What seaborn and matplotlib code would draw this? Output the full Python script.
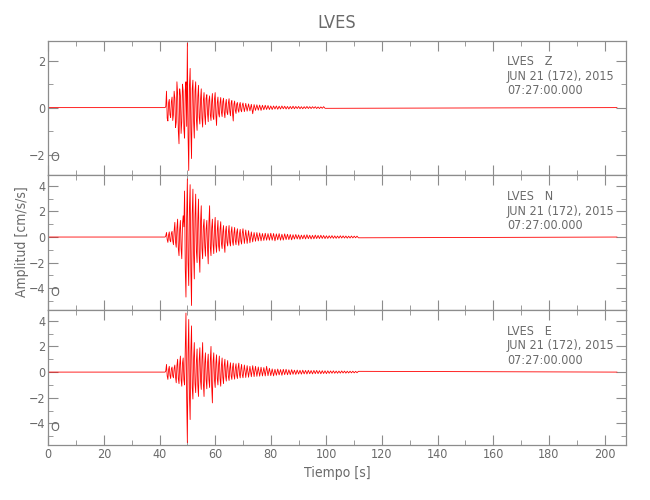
import numpy as np
import pandas as pd
import seaborn as sns
import matplotlib
matplotlib.use('Agg')
from matplotlib import pyplot as plt
from matplotlib.ticker import MultipleLocator

# trace header [s]
b, e = 0.0, 204.5
onset, dt_strong = 42.0, 0.25   # strong motion part, finely read
coda_start, dt_coda = 70.0, 0.5  # coda, coarser

station = 'LVES'
components = ['Z', 'N', 'E']
date_str = 'JUN 21 (172), 2015'
time_str = '07:27:00.000'
ylims = {'Z': (-2.89, 2.85), 'N': (-5.73, 4.82), 'E': (-5.68, 4.82)}

# amplitudes [cm/s/s]
z_strong = [0.00, 0.05, 0.70, -0.45, -0.57, 0.20, 0.35, -0.30, -0.42, 0.25,
            0.45, -0.55, -0.30, 0.70, 0.40, -0.85, -0.62, 1.10, 0.60, -1.00,
            -1.54, 0.80, 0.50, -1.10, -0.60, 1.00, 0.70, -0.90, -1.30, 0.75,
            1.10, -0.80, 2.75, -1.20, -2.68, 0.90, 1.67, -0.95, -2.17, 0.80,
            1.17, -0.60, -1.30, 0.70, 1.10, -0.50, -0.97, 0.45, 0.95, -0.40,
            -0.70, 0.35, 0.80, -0.45, -0.83, 0.30, 0.64, -0.35, -0.72, 0.40,
            0.55, -0.25, -0.60, 0.30, 0.50, -0.30, -0.55, 0.25, 0.60, -0.40,
            -0.50, 0.35, 0.64, -0.30, -0.76, 0.20, 0.45, -0.25, -0.40, 0.20,
            0.43, -0.20, -0.38, 0.25, 0.40, -0.20, -0.43, 0.15, 0.35, -0.20,
            -0.30, 0.20, 0.38, -0.15, -0.35, 0.20, 0.30, -0.25, -0.57, 0.15,
            0.28, -0.12, -0.25, 0.15, 0.22, -0.10, -0.20, 0.12, 0.22, -0.10,
            -0.18, 0.10]
z_coda = [0.20, -0.17, 0.18, -0.15, 0.16, -0.14, 0.14, -0.26, 0.13, -0.12,
          0.12, -0.11, 0.11, -0.12, 0.10, -0.09, 0.10, -0.08, 0.09, -0.08,
          0.07, -0.08, 0.07, -0.06, 0.07, -0.07, 0.06, -0.06, 0.07, -0.05,
          0.06, -0.06, 0.05, -0.06, 0.05, -0.05, 0.06, -0.05, 0.05, -0.04,
          0.05, -0.05, 0.04, -0.05, 0.04, -0.04, 0.05, -0.04, 0.04, -0.04,
          0.04, -0.03, 0.04, -0.04, 0.03, -0.04, 0.03, -0.03, 0.04, -0.03]

n_strong = [0.00, 0.10, 0.36, -0.20, -0.42, 0.15, 0.40, -0.25, -0.38, 0.30,
            0.45, -0.30, -0.60, 0.50, 1.15, -0.40, -0.80, 0.70, 1.40, -0.90,
            -1.46, 0.60, 1.30, -0.90, -1.70, 1.00, 1.67, 0.80, 3.60, -2.50,
            -4.70, 1.50, 4.55, -2.00, -3.80, 2.20, 4.10, -2.60, -5.36, 1.80,
            3.75, -1.40, -3.28, 1.60, 3.36, -1.10, -2.00, 1.30, 2.97, -1.50,
            -2.76, 1.20, 2.45, -0.90, -1.70, 0.80, 1.40, -0.70, -1.50, 0.60,
            1.30, -0.90, -2.10, 1.10, 2.45, -0.80, -1.46, 0.70, 1.40, -0.60,
            -1.30, 0.70, 1.54, -0.60, -1.20, 0.50, 1.30, -0.70, -1.10, 0.60,
            1.20, -0.50, -0.90, 0.40, 0.90, -0.60, -1.20, 0.45, 0.85, -0.40,
            -0.70, 0.35, 0.90, -0.40, -0.70, 0.40, 0.80, -0.35, -0.65, 0.30,
            0.75, -0.30, -0.60, 0.35, 0.65, -0.30, -0.65, 0.25, 0.60, -0.30,
            -0.55, 0.30]
n_coda = [0.65, -0.50, 0.55, -0.50, 0.50, -0.45, 0.40, -0.38, 0.35, -0.33,
          0.35, -0.30, 0.32, -0.30, 0.28, -0.27, 0.30, -0.25, 0.27, -0.25,
          0.30, -0.25, 0.28, -0.30, 0.25, -0.22, 0.27, -0.25, 0.22, -0.24,
          0.25, -0.20, 0.22, -0.20, 0.20, -0.22, 0.18, -0.16, 0.20, -0.15,
          0.17, -0.18, 0.15, -0.14, 0.16, -0.15, 0.18, -0.13, 0.14, -0.15,
          0.13, -0.14, 0.15, -0.12, 0.13, -0.12, 0.14, -0.11, 0.12, -0.12,
          0.10, -0.11, 0.10, -0.09, 0.11, -0.10, 0.09, -0.10, 0.08, -0.09,
          0.10, -0.08, 0.09, -0.08, 0.08, -0.09, 0.07, -0.08, 0.08, -0.07,
          0.07, -0.06, 0.07, -0.06]

e_strong = [0.00, 0.10, 0.60, -0.30, -0.57, 0.20, 0.45, -0.25, -0.50, 0.25,
            0.40, -0.30, -0.45, 0.30, 0.55, -0.40, -0.83, 0.50, 1.00, -0.50,
            -0.90, 0.60, 1.25, -0.60, -1.10, 0.70, 1.10, -0.60, -1.00, 1.80,
            4.60, -2.00, -5.50, 1.50, 4.10, -1.80, -3.70, 1.60, 3.60, -1.20,
            -2.10, 1.10, 2.30, -0.90, -1.60, 0.80, 1.80, -1.00, -1.90, 0.90,
            1.90, -0.70, -1.35, 1.00, 2.30, -0.90, -1.90, 0.70, 1.50, -0.60,
            -1.30, 0.70, 1.40, -0.60, -1.20, 0.90, 2.00, -1.10, -2.40, 0.80,
            1.50, -0.60, -1.20, 0.70, 1.35, -0.50, -1.00, 0.60, 1.25, -0.50,
            -1.10, 0.50, 1.10, -0.40, -0.90, 0.50, 1.00, -0.30, -0.70, 0.40,
            0.90, -0.35, -0.65, 0.30, 0.73, -0.30, -0.57, 0.35, 0.70, -0.25,
            -0.55, 0.30, 0.65, -0.25, -0.50, 0.35, 0.70, -0.20, -0.45, 0.25,
            0.60, -0.20]
e_coda = [-0.44, 0.55, -0.42, 0.50, -0.40, 0.45, -0.36, 0.50, -0.35, 0.45,
          -0.33, 0.40, -0.32, 0.38, -0.30, 0.35, -0.30, 0.45, -0.28, 0.30,
          -0.28, 0.25, -0.30, 0.22, -0.25, 0.24, -0.22, 0.20, -0.25, 0.22,
          -0.20, 0.22, -0.21, 0.18, -0.20, 0.19, -0.17, 0.15, -0.18, 0.16,
          -0.15, 0.14, -0.16, 0.15, -0.14, 0.13, -0.15, 0.14, -0.13, 0.12,
          -0.14, 0.13, -0.12, 0.13, -0.12, 0.11, -0.13, 0.11, -0.11, 0.10,
          -0.12, 0.10, -0.10, 0.09, -0.09, 0.10, -0.09, 0.08, -0.09, 0.08,
          -0.08, 0.09, -0.07, 0.08, -0.08, 0.07, -0.07, 0.07, -0.06, 0.07,
          -0.06, 0.06, -0.05, 0.06]

quiet = 0.0  # pre-event / late baseline


def trace(strong, coda):
    t = np.concatenate([[b], onset + dt_strong * np.arange(len(strong)),
                        coda_start + dt_coda * np.arange(len(coda)), [e]])
    a = np.concatenate([[quiet], strong, coda, [quiet]])
    return t, a


frames = []
for c, (s, cd) in zip(components, [(z_strong, z_coda), (n_strong, n_coda), (e_strong, e_coda)]):
    t, a = trace(s, cd)
    frames.append(pd.DataFrame({'t': t, 'amp': a, 'comp': c}))
df = pd.concat(frames)

sns.set_style('ticks')
plt.rcParams['font.family'] = ['DejaVu Sans']
plt.rcParams['font.stretch'] = 'condensed'
txt = '#6a6a6a'
frame = '#8c8c8c'

fig, axes = plt.subplots(3, 1, sharex=True, figsize=(6.5, 5), dpi=100)
fig.subplots_adjust(left=0.0743, right=0.963, top=0.9186, bottom=0.11, hspace=0)

for ax, c in zip(axes, components):
    sns.lineplot(data=df[df.comp == c], x='t', y='amp', color='red', lw=0.6,
                 estimator=None, sort=False, ax=ax)
    ax.set_xlim(0, 207.7)
    ax.set_ylim(*ylims[c])
    ax.xaxis.set_major_locator(MultipleLocator(20))
    ax.xaxis.set_minor_locator(MultipleLocator(10))
    ax.yaxis.set_major_locator(MultipleLocator(2))
    ax.yaxis.set_minor_locator(MultipleLocator(1))
    ax.tick_params(which='both', direction='in', top=True, right=True,
                   color=frame, labelcolor=txt, labelsize=9, pad=2)
    ax.tick_params(which='major', length=7)
    ax.tick_params(which='minor', length=3.6)
    for s in ax.spines.values():
        s.set_color(frame)
        s.set_linewidth(0.9)
    ax.set_ylabel('')
    ax.set_xlabel('')
    ax.text(0.794, 0.844, f'{station}   {c}', transform=ax.transAxes, color=txt,
            fontsize=9, ha='left', va='center')
    ax.text(0.794, 0.736, date_str, transform=ax.transAxes, color=txt,
            fontsize=9, ha='left', va='center')
    ax.text(0.794, 0.628, time_str, transform=ax.transAxes, color=txt,
            fontsize=9, ha='left', va='center')
    ax.text(0.0116, 0.13, 'O', transform=ax.transAxes, color=txt,
            fontsize=9, ha='center', va='center')

axes[0].set_title(station, color=txt, fontsize=13, pad=9)
axes[-1].set_xlabel('Tiempo [s]', color=txt, fontsize=10, labelpad=4)
fig.text(22 / 650, 1 - 242 / 500, 'Amplitud [cm/s/s]', rotation=90, color=txt,
         fontsize=10, ha='center', va='center')

plt.savefig('out.png', dpi=100)
